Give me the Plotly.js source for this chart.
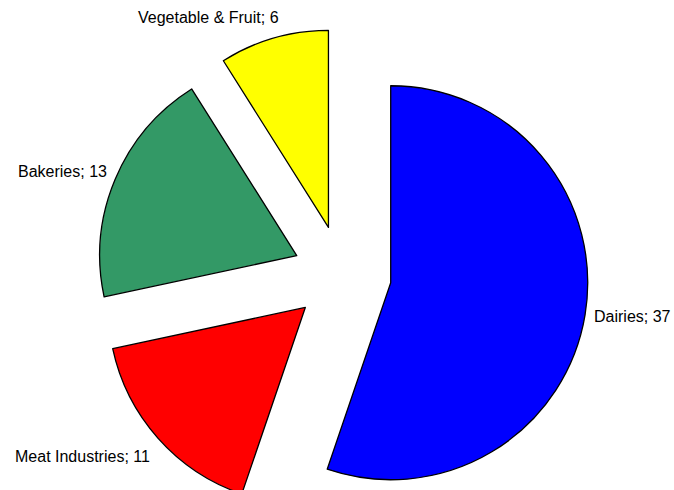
<!DOCTYPE html>
<html>
<head>
<meta charset="utf-8">
<script src="https://cdn.plot.ly/plotly-3.0.1.min.js"></script>
<style>
html, body { margin: 0; padding: 0; overflow: hidden; background: #fff; }
#chart { width: 674px; height: 560px; }
</style>
</head>
<body>
<div id="chart"></div>
<script>
const categories = ["Dairies", "Meat Industries", "Bakeries", "Vegetable & Fruit"];
const values = [37, 11, 13, 6];
const colors = ["#0000FF", "#FF0000", "#339966", "#FFFF00"];

const W = 674, H = 560;
// label anchor positions in pixels (layout only)
const labelPos = [[632, 316], [82, 456], [62, 171], [208, 17]];

const trace = {
  type: "pie",
  labels: categories,
  values: values,
  sort: false,
  direction: "clockwise",
  rotation: 0,
  pull: 0.25,
  marker: { colors: colors, line: { color: "#000000", width: 1.3 } },
  textinfo: "none",
  hoverinfo: "label+value",
  domain: { x: [0.0152, 1.0], y: [0.06973, 0.94919] }
};

const annotations = categories.map((c, i) => ({
  text: c + "; " + values[i],
  xref: "paper", yref: "paper",
  x: labelPos[i][0] / W,
  y: 1 - labelPos[i][1] / H,
  xanchor: "center", yanchor: "middle",
  showarrow: false,
  font: { family: "Liberation Sans, Arial, sans-serif", size: 16, color: "#000000" }
}));

const layout = {
  width: W,
  height: H,
  margin: { l: 0, r: 0, t: 0, b: 0, pad: 0 },
  showlegend: false,
  paper_bgcolor: "#ffffff",
  font: { family: "Liberation Sans, Arial, sans-serif", size: 16, color: "#000000" },
  annotations: annotations
};

Plotly.newPlot("chart", [trace], layout, { displayModeBar: false, staticPlot: true });
</script>
</body>
</html>
